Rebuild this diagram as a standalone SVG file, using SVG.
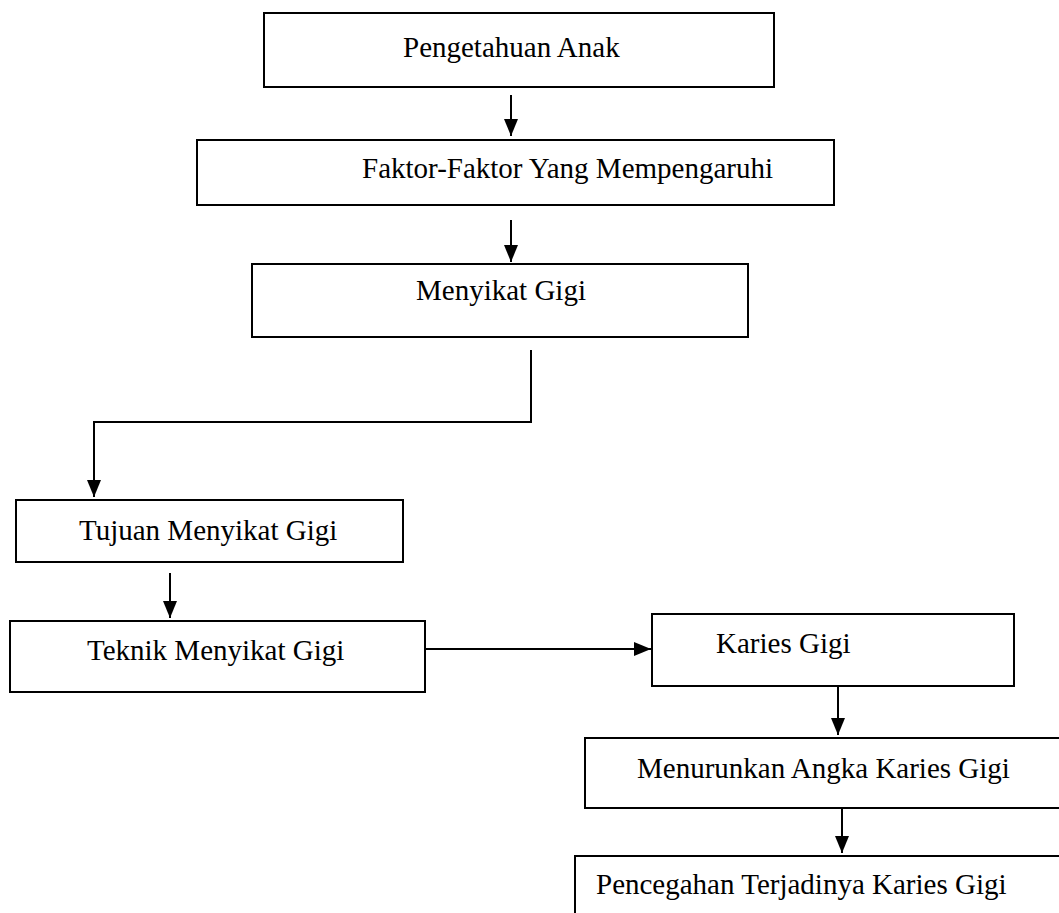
<svg xmlns="http://www.w3.org/2000/svg" width="1059" height="913" viewBox="0 0 1059 913">
<style>
.box{fill:#fff;stroke:#000;stroke-width:2}
.lbl{font-family:"Liberation Serif","Times New Roman",serif;font-size:29px;fill:#000}
.con{fill:none;stroke:#000;stroke-width:2}
</style>
<defs>
<marker id="ah" viewBox="0 0 17 14" refX="17" refY="7" markerWidth="17" markerHeight="14" markerUnits="userSpaceOnUse" orient="auto">
<path d="M0,0 L17,7 L0,14 z" fill="#000"/>
</marker>
</defs>
<rect width="1059" height="913" fill="#fff"/>
<g id="connectors">
<line class="con" x1="511" y1="95" x2="511" y2="136" marker-end="url(#ah)"/>
<line class="con" x1="511" y1="220" x2="511" y2="262" marker-end="url(#ah)"/>
<polyline class="con" points="531,350 531,422 94,422 94,497" marker-end="url(#ah)"/>
<line class="con" x1="170" y1="573" x2="170" y2="618" marker-end="url(#ah)"/>
<line class="con" x1="425" y1="649" x2="651" y2="649" marker-end="url(#ah)"/>
<line class="con" x1="838" y1="686" x2="838" y2="735" marker-end="url(#ah)"/>
<line class="con" x1="842" y1="808" x2="842" y2="853" marker-end="url(#ah)"/>
</g>
<g id="n1"><rect class="box" x="264" y="13" width="510" height="74"/><text class="lbl" x="403" y="57">Pengetahuan Anak</text></g>
<g id="n2"><rect class="box" x="197" y="140" width="637" height="65"/><text class="lbl" x="362" y="178">Faktor-Faktor Yang Mempengaruhi</text></g>
<g id="n3"><rect class="box" x="252" y="264" width="496" height="73"/><text class="lbl" x="416" y="300">Menyikat Gigi</text></g>
<g id="n4"><rect class="box" x="16" y="500" width="387" height="62"/><text class="lbl" x="79" y="540">Tujuan Menyikat Gigi</text></g>
<g id="n5"><rect class="box" x="10" y="621" width="415" height="71"/><text class="lbl" x="87" y="660">Teknik Menyikat Gigi</text></g>
<g id="n6"><rect class="box" x="652" y="614" width="362" height="72"/><text class="lbl" x="716" y="653">Karies Gigi</text></g>
<g id="n7"><rect class="box" x="585" y="738" width="480" height="70"/><text class="lbl" x="637" y="778">Menurunkan Angka Karies Gigi</text></g>
<g id="n8"><rect class="box" x="575" y="856" width="490" height="70"/><text class="lbl" x="596" y="894">Pencegahan Terjadinya Karies Gigi</text></g>
</svg>
